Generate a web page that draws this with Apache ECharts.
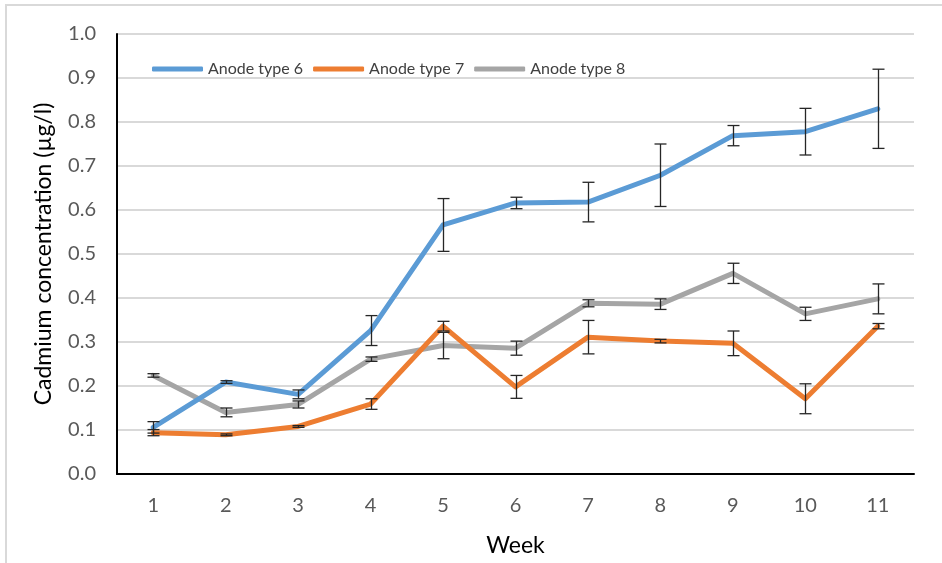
<!DOCTYPE html>
<html>
<head>
<meta charset="utf-8">
<script src="https://cdn.jsdelivr.net/npm/echarts@6/dist/echarts.min.js"></script>
<style>
html,body{margin:0;padding:0;background:#fff;}
#chart{width:942px;height:563px;}
</style>
</head>
<body>
<div id="chart"></div>
<script>
const weeks = ['1','2','3','4','5','6','7','8','9','10','11'];
const seriesNames = ['Anode type 6','Anode type 7','Anode type 8'];
const type6 = [0.106, 0.209, 0.181, 0.326, 0.566, 0.616, 0.618, 0.679, 0.769, 0.778, 0.830];
const type6Err = [0.013, 0.003, 0.010, 0.034, 0.060, 0.013, 0.045, 0.071, 0.023, 0.053, 0.090];
const type7 = [0.094, 0.089, 0.108, 0.159, 0.336, 0.198, 0.311, 0.302, 0.297, 0.171, 0.336];
const type7Err = [0.007, 0.002, 0.002, 0.012, 0.011, 0.026, 0.038, 0.004, 0.028, 0.034, 0.006];
const type8 = [0.224, 0.140, 0.158, 0.261, 0.292, 0.286, 0.388, 0.386, 0.456, 0.364, 0.398];
const type8Err = [0.004, 0.010, 0.008, 0.005, 0.030, 0.016, 0.008, 0.012, 0.023, 0.015, 0.034];
const yTicks = ['0.0','0.1','0.2','0.3','0.4','0.5','0.6','0.7','0.8','0.9','1.0'];

const colors = ['#5B9BD5', '#ED7D31', '#A5A5A5'];
const FONT = 'Lato';

function errData(vals, errs) {
  return vals.map((v, i) => [i, v - errs[i], v + errs[i]]);
}
function errSeries(vals, errs, z) {
  return {
    type: 'custom',
    z: z,
    silent: true,
    renderItem: function (params, api) {
      const lo = api.coord([api.value(0), api.value(1)]);
      const hi = api.coord([api.value(0), api.value(2)]);
      const x = Math.round(lo[0]) + 0.5;
      const hw = 6;
      const st = { stroke: '#262626', lineWidth: 1.3 };
      return {
        type: 'group',
        children: [
          { type: 'line', shape: { x1: x, y1: lo[1], x2: x, y2: hi[1] }, style: st },
          { type: 'line', shape: { x1: x - hw, y1: lo[1], x2: x + hw, y2: lo[1] }, style: st },
          { type: 'line', shape: { x1: x - hw, y1: hi[1], x2: x + hw, y2: hi[1] }, style: st }
        ]
      };
    },
    encode: { x: 0, y: [1, 2] },
    data: errData(vals, errs)
  };
}
function lineSeries(name, vals, color, z) {
  return {
    name: name,
    type: 'line',
    data: vals,
    z: z,
    showSymbol: false,
    symbol: 'none',
    lineStyle: { color: color, width: 5, cap: 'round', join: 'round' },
    itemStyle: { color: color },
    animation: false
  };
}

const chart = echarts.init(document.getElementById('chart'), null, { renderer: 'canvas' });
chart.setOption({
  animation: false,
  backgroundColor: '#fff',
  textStyle: { fontFamily: FONT },
  graphic: [{
    type: 'rect',
    shape: { x: 6, y: 5, width: 960, height: 600 },
    style: { fill: 'none', stroke: '#d9d9d9', lineWidth: 2 },
    z: -1
  }],
  grid: { left: 117, right: 28, top: 34, bottom: 89, containLabel: false, outerBoundsMode: 'none' },
  legend: {
    data: seriesNames,
    left: 147,
    top: 56,
    itemWidth: 51,
    itemHeight: 5,
    itemGap: 10,
    icon: 'roundRect',
    textStyle: { fontFamily: FONT, fontSize: 16, color: '#404040' }
  },
  xAxis: {
    type: 'category',
    data: weeks,
    boundaryGap: true,
    name: 'Week',
    nameLocation: 'middle',
    nameGap: 60,
    nameTextStyle: { fontFamily: FONT, fontSize: 23, color: '#000' },
    axisLine: { lineStyle: { color: '#000', width: 2 } },
    axisTick: { show: false },
    axisLabel: { fontFamily: FONT, fontSize: 20, color: '#595959', margin: 22 },
    splitLine: { show: false }
  },
  yAxis: {
    type: 'value',
    min: 0,
    max: 1,
    interval: 0.1,
    name: 'Cadmium concentration (µg/l)',
    nameLocation: 'middle',
    nameGap: 62,
    nameRotate: 90,
    nameTextStyle: { fontFamily: FONT, fontSize: 23, color: '#000' },
    axisLine: { show: true, lineStyle: { color: '#000', width: 2 } },
    axisTick: { show: false },
    axisLabel: {
      fontFamily: FONT, fontSize: 20, color: '#595959', margin: 21,
      formatter: function (v) { return yTicks[Math.round(v * 10)]; }
    },
    splitLine: { show: true, lineStyle: { color: '#d9d9d9', width: 2 } }
  },
  series: [
    lineSeries(seriesNames[0], type6, colors[0], 3),
    lineSeries(seriesNames[1], type7, colors[1], 4),
    lineSeries(seriesNames[2], type8, colors[2], 2),
    errSeries(type6, type6Err, 5),
    errSeries(type7, type7Err, 5),
    errSeries(type8, type8Err, 5)
  ]
});
</script>
</body>
</html>
